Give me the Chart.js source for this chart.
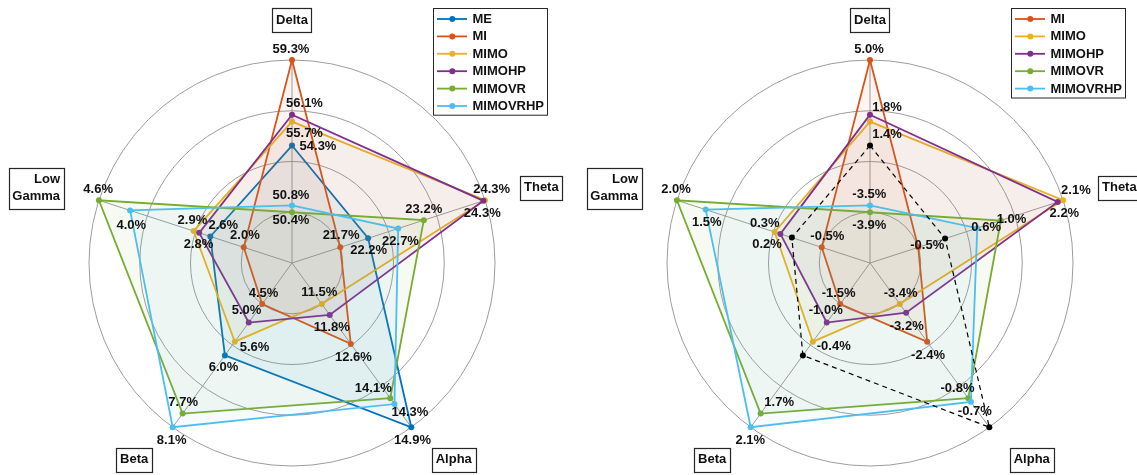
<!DOCTYPE html>
<html>
<head>
<meta charset="utf-8">
<script src="https://cdn.jsdelivr.net/npm/chart.js@4.4.1/dist/chart.umd.min.js"></script>
<style>
  html, body { margin: 0; padding: 0; background: #fff; width: 1137px; height: 475px; overflow: hidden; }
  .panel { position: absolute; top: 0; }
</style>
</head>
<body>
<div class="panel" style="left:0"><canvas id="absChart" width="580" height="475"></canvas></div>
<div class="panel" style="left:578px"><canvas id="relChart" width="559" height="475"></canvas></div>
<script>
// Frequency bands (spokes, clockwise from the top)
const bands = ['Delta', 'Theta', 'Alpha', 'Beta', ['Low', 'Gamma']];

// Relative band power per condition (%)
const absME       = [54.3, 22.2, 14.9, 6.0, 2.6];
const absMI       = [59.3, 21.7, 12.6, 4.5, 2.0];
const absMIMO     = [55.7, 24.3, 11.5, 5.6, 2.9];
const absMIMOHP   = [56.1, 24.27, 11.8, 5.04, 2.8];
const absMIMOVR   = [50.4, 23.2, 14.1, 7.7, 4.6];
const absMIMOVRHP = [50.8, 22.74, 14.26, 8.1, 4.04];

// Change against ME (percentage points)
const relMI       = [5.0, -0.5, -2.36, -1.5, -0.52];
const relMIMO     = [1.4, 2.2, -3.4, -0.4, 0.3];
const relMIMOHP   = [1.8, 2.1, -3.16, -0.96, 0.2];
const relMIMOVR   = [-3.9, 1.04, -0.8, 1.7, 2.0];
const relMIMOVRHP = [-3.5, 0.6, -0.7, 2.1, 1.5];
const relBaseline = [0, 0, 0, 0, 0];

const colors = {
  ME: '#0072BD', MI: '#D95319', MIMO: '#EDB120',
  MIMOHP: '#7E2F8E', MIMOVR: '#77AC30', MIMOVRHP: '#4DBEEE'
};

// Where each value label sits relative to its marker (px)
const absLabelOffsets = {
  ME:       [[26, 1], [0.5, 12.4], [1.2, 13], [-1.3, 11.6], [13, -10.6]],
  MI:       [[-1, -10.7], [0.8, -12.3], [2.7, 14], [1.3, -11], [1.2, -11.6]],
  MIMO:     [[12.5, 11.6], [-2.8, 13.3], [-2.5, -11.6], [19.7, 5.6], [-1.2, -11]],
  MIMOHP:   [[12.5, -11.3], [8.3, -11.7], [2, 12.7], [-2.2, -12.6], [-0.7, 11.7]],
  MIMOVR:   [[-1, 8.4], [0, -10.7], [-17, -9.7], [0.5, -10.7], [-0.8, -10.7]],
  MIMOVRHP: [[-1, -10], [2.3, 13.4], [15.5, 8.3], [-1, 13], [1.2, 15]]
};
const relLabelOffsets = {
  MI:       [[-1, -10.7], [9, -2], [0.9, 14], [-1.5, -11], [5.6, -10.4]],
  MIMO:     [[17, 12.6], [1.3, 13.3], [0.8, -11], [20.9, 5], [-9.8, -8.4]],
  MIMOHP:   [[17, -7], [18.2, -11.7], [0.6, 13.3], [-1, -12.3], [-13.3, 11]],
  MIMOVR:   [[-0.7, 13.4], [10.6, -1], [-10.8, -9.7], [18.5, -10.7], [-0.9, -10.7]],
  MIMOVRHP: [[-0.7, -10.7], [8.9, -0.6], [3.9, 10], [-0.4, 13], [1.1, 13.3]]
};

const FONT = 'bold 13px "Liberation Sans", Arial, Helvetica, sans-serif';

// Each spoke has its own range: the smallest value sits on ring 1, the largest on ring 4.
function spokeScaler(seriesList) {
  const lo = [], hi = [];
  for (let i = 0; i < bands.length; i++) {
    const col = seriesList.map(s => s[i]);
    lo.push(Math.min(...col));
    hi.push(Math.max(...col));
  }
  return vals => vals.map((v, i) => 1 + 3 * (v - lo[i]) / (hi[i] - lo[i]));
}

function hexA(hex, a) {
  const n = parseInt(hex.slice(1), 16);
  return `rgba(${n >> 16},${(n >> 8) & 255},${n & 255},${a})`;
}

function seriesDataset(name, values, scaler, offsets, order) {
  const c = colors[name];
  return {
    label: name,
    data: scaler(values),
    raw: values,
    labelOffsets: offsets[name],
    inLegend: true,
    borderColor: c,
    backgroundColor: hexA(c, 0.06),
    fill: 'origin',
    borderWidth: 1.8,
    pointRadius: 3,
    pointBackgroundColor: c,
    pointBorderColor: c,
    pointBorderWidth: 0,
    order: order
  };
}

// Value labels next to the markers
const valueLabels = {
  id: 'valueLabels',
  afterDatasetsDraw(chart) {
    const ctx = chart.ctx;
    ctx.save();
    ctx.font = FONT;
    ctx.fillStyle = '#111';
    ctx.textAlign = 'center';
    ctx.textBaseline = 'middle';
    chart.data.datasets.forEach((ds, di) => {
      if (!ds.labelOffsets) return;
      const meta = chart.getDatasetMeta(di);
      meta.data.forEach((pt, i) => {
        const [dx, dy] = ds.labelOffsets[i];
        ctx.fillText(ds.raw[i].toFixed(1) + '%', pt.x + dx, pt.y + dy);
      });
    });
    ctx.restore();
  }
};

// Boxed band names outside the outer ring
const bandBoxes = {
  id: 'bandBoxes',
  afterDraw(chart) {
    const ctx = chart.ctx;
    const scale = chart.scales.r;
    const dist = scale.drawingArea * 1.197;
    ctx.save();
    ctx.font = FONT;
    ctx.textBaseline = 'middle';
    chart.data.labels.forEach((lab, i) => {
      const p = scale.getPointPosition(i, dist);
      const lines = Array.isArray(lab) ? lab : [lab];
      const lh = 16.7;
      const w = Math.max(...lines.map(l => ctx.measureText(l).width));
      const boxW = w + 7.4;
      const boxH = 24 + (lines.length - 1) * lh;
      const cx = Math.cos(p.angle);
      let left;
      if (Math.abs(cx) < 0.1) left = p.x - boxW / 2;
      else if (cx > 0) left = p.x - 2.8;
      else left = p.x + 2.8 - boxW;
      const top = p.y - boxH / 2;
      ctx.fillStyle = '#fff';
      ctx.fillRect(left, top, boxW, boxH);
      ctx.strokeStyle = '#262626';
      ctx.lineWidth = 1.2;
      ctx.strokeRect(Math.round(left) + 0.5, Math.round(top) + 0.5, Math.round(boxW), Math.round(boxH));
      ctx.fillStyle = '#111';
      lines.forEach((l, k) => {
        const y = top + 12 + k * lh;
        if (lines.length > 1) {
          ctx.textAlign = 'right';
          ctx.fillText(l, left + boxW - 3.7, y);
        } else {
          ctx.textAlign = 'center';
          ctx.fillText(l, left + boxW / 2, y);
        }
      });
    });
    ctx.restore();
  }
};

// Legend box in the upper right of each panel
const boxLegend = {
  id: 'boxLegend',
  afterDraw(chart) {
    const ctx = chart.ctx;
    const items = chart.data.datasets.filter(d => d.inLegend);
    const x = 433.5, y = 8.5, w = 114, rowH = 17.4;
    const h = items.length * 17.2 + 3.5;
    ctx.save();
    ctx.fillStyle = '#fff';
    ctx.fillRect(x, y, w, h);
    ctx.strokeStyle = '#262626';
    ctx.lineWidth = 1;
    ctx.strokeRect(x, y, w, h);
    ctx.font = FONT;
    ctx.textBaseline = 'middle';
    ctx.textAlign = 'left';
    items.forEach((d, i) => {
      const ry = 19 + i * rowH;
      ctx.strokeStyle = d.borderColor;
      ctx.lineWidth = 1.8;
      ctx.beginPath();
      ctx.moveTo(x + 3.5, ry);
      ctx.lineTo(x + 33.5, ry);
      ctx.stroke();
      ctx.fillStyle = d.borderColor;
      ctx.beginPath();
      ctx.arc(x + 18.8, ry, 3, 0, Math.PI * 2);
      ctx.fill();
      ctx.fillStyle = '#111';
      ctx.fillText(d.label, x + 39, ry + 0.5);
    });
    ctx.restore();
  }
};

function radarOptions(canvasWidth) {
  const size = 406;
  return {
    responsive: false,
    animation: false,
    devicePixelRatio: 1,
    layout: { padding: { left: 89, top: 60, right: canvasWidth - 89 - size, bottom: 475 - 60 - size } },
    plugins: { legend: { display: false }, tooltip: { enabled: false } },
    elements: { line: { tension: 0 } },
    scales: {
      r: {
        min: 0, max: 4,
        ticks: { display: false, stepSize: 1 },
        pointLabels: { display: false },
        grid: { circular: true, color: '#9c9c9c', lineWidth: 1 },
        angleLines: { color: '#9c9c9c', lineWidth: 1 }
      }
    }
  };
}

// Left panel: band power per condition
const absScale = spokeScaler([absME, absMI, absMIMO, absMIMOHP, absMIMOVR, absMIMOVRHP]);
new Chart(document.getElementById('absChart'), {
  type: 'radar',
  data: {
    labels: bands,
    datasets: [
      seriesDataset('ME', absME, absScale, absLabelOffsets, 6),
      seriesDataset('MI', absMI, absScale, absLabelOffsets, 5),
      seriesDataset('MIMO', absMIMO, absScale, absLabelOffsets, 4),
      seriesDataset('MIMOHP', absMIMOHP, absScale, absLabelOffsets, 3),
      seriesDataset('MIMOVR', absMIMOVR, absScale, absLabelOffsets, 2),
      seriesDataset('MIMOVRHP', absMIMOVRHP, absScale, absLabelOffsets, 1)
    ]
  },
  options: radarOptions(580),
  plugins: [valueLabels, bandBoxes, boxLegend]
});

// Right panel: difference from ME, with ME itself as the dashed zero line
const relScale = spokeScaler([relMI, relMIMO, relMIMOHP, relMIMOVR, relMIMOVRHP, relBaseline]);
new Chart(document.getElementById('relChart'), {
  type: 'radar',
  data: {
    labels: bands,
    datasets: [
      seriesDataset('MI', relMI, relScale, relLabelOffsets, 6),
      seriesDataset('MIMO', relMIMO, relScale, relLabelOffsets, 5),
      seriesDataset('MIMOHP', relMIMOHP, relScale, relLabelOffsets, 4),
      seriesDataset('MIMOVR', relMIMOVR, relScale, relLabelOffsets, 3),
      seriesDataset('MIMOVRHP', relMIMOVRHP, relScale, relLabelOffsets, 2),
      {
        label: 'ME',
        data: relScale(relBaseline),
        borderColor: '#000',
        borderDash: [5, 4],
        borderWidth: 1.2,
        fill: false,
        pointRadius: 3,
        pointBackgroundColor: '#000',
        pointBorderWidth: 0,
        order: 0
      }
    ]
  },
  options: radarOptions(559),
  plugins: [valueLabels, bandBoxes, boxLegend]
});
</script>
</body>
</html>
